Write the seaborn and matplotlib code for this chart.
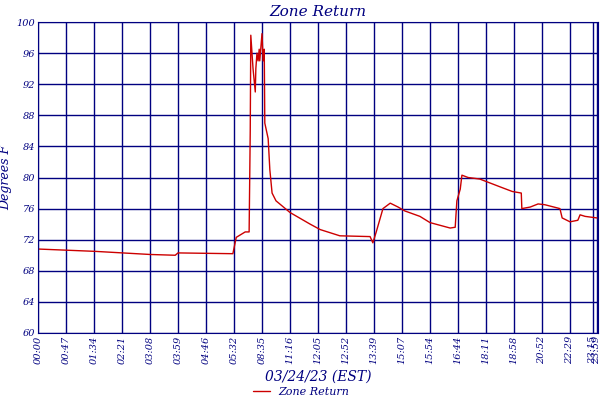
import matplotlib
matplotlib.use("Agg")
import matplotlib.pyplot as plt
import seaborn as sns
import pandas as pd

# sample index vs. temperature
sample_idx = [0, 102, 200, 245, 250, 348, 354, 370, 377, 379, 380, 384, 388, 389, 391, 393,
              395, 396, 400, 402, 404, 405, 411, 414, 418, 425, 450, 486, 504, 539, 593, 598,
              604, 616, 629, 643, 655, 682, 700, 736, 745, 748, 754, 757, 768, 789, 807, 825,
              847, 863, 864, 879, 893, 905, 932, 936, 950, 964, 968, 977, 998]
temp_f = [70.8, 70.5, 70.1, 70.0, 70.3, 70.2, 72.3, 73.0, 73.0, 86.0, 98.3, 94.0, 91.0, 94.0,
          96.0, 95.0, 96.5, 95.0, 98.5, 95.0, 96.5, 87.0, 85.0, 81.0, 78.0, 77.0, 75.5, 74.0,
          73.3, 72.5, 72.4, 71.6, 73.0, 76.0, 76.7, 76.2, 75.7, 75.0, 74.2, 73.5, 73.6, 77.0,
          78.5, 80.3, 80.0, 79.8, 79.3, 78.8, 78.2, 78.0, 76.0, 76.2, 76.6, 76.5, 76.0, 74.8,
          74.3, 74.5, 75.2, 75.0, 74.8]
tick_pos = [0, 50, 100, 150, 200, 250, 300, 350, 400, 450, 500, 550, 600, 650, 700, 750,
            800, 850, 900, 950, 991, 998]
tick_labels = ["00:00", "00:47", "01:34", "02:21", "03:08", "03:59", "04:46", "05:32",
               "08:35", "11:16", "12:05", "12:52", "13:39", "15:07", "15:54", "16:44",
               "18:11", "18:58", "20:52", "22:29", "23:15", "23:59"]

navy = "#000080"
df = pd.DataFrame({"idx": sample_idx, "temp": temp_f})

sns.set_style("white")
plt.rcParams["font.family"] = ["DejaVu Serif"]
fig = plt.figure(figsize=(6, 4), dpi=100)
ax = fig.add_axes([38 / 600, 67 / 400, 560 / 600, 311 / 400])

sns.lineplot(data=df, x="idx", y="temp", color="#cc0000", lw=1, ax=ax, label="Zone Return")

ax.set_xlim(0, 1000)
ax.set_ylim(60, 100)
ax.set_yticks(range(60, 101, 4))
ax.set_xticks(tick_pos)
ax.set_xticklabels(tick_labels, rotation=90, fontsize=7, color=navy, style="italic")
ax.tick_params(axis="y", labelsize=7, labelcolor=navy)
for t in ax.get_yticklabels():
    t.set_style("italic")
ax.grid(True, color=navy, lw=1)
for s in ax.spines.values():
    s.set_color(navy)
ax.tick_params(length=0, pad=2)

ax.set_title("Zone Return", fontsize=11, color=navy, style="italic", pad=4)
ax.set_ylabel("Degrees F", fontsize=9, color=navy, style="italic", labelpad=3)
ax.set_xlabel("03/24/23 (EST)", fontsize=10, color=navy, style="italic", labelpad=4)
leg = ax.legend(loc="center", bbox_to_anchor=(0.47, -0.19), frameon=False,
                fontsize=8, handlelength=1.5, borderpad=0.1)
for t in leg.get_texts():
    t.set_color(navy)
    t.set_style("italic")

fig.savefig("out.png", dpi=100)
